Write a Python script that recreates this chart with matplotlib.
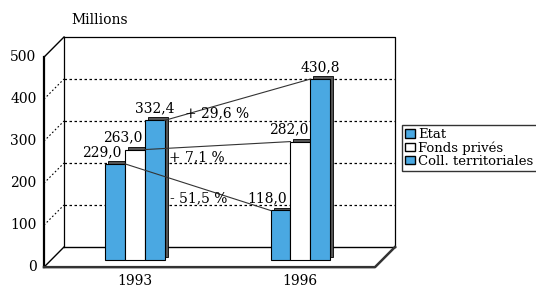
import matplotlib
matplotlib.use("Agg")
import matplotlib.pyplot as plt
from matplotlib.patches import Patch

# --- data ---
years = ["1993", "1996"]
series = ["Etat", "Fonds privés", "Coll. territoriales"]
etat = [229.0, 118.0]
fonds = [263.0, 282.0]
coll = [332.4, 430.8]
changes = ["- 51,5 %", "+ 7,1 %", "+ 29,6 %"]
y_ticks = [0, 100, 200, 300, 400, 500]

# --- style / layout ---
plt.rcParams["font.family"] = ["DejaVu Serif"]
blue = "#4aa8e2"
colors = [blue, "white", blue]
fs = 10

# depth offsets in data units (front plane and bar plane)
DX, DY = -0.121, -48
BX, BY = -0.072, -31
W = 0.12
bar_off = [-W, 0.0, W]
lab_shift = [-0.08, -0.072, 0.0]
pct_pos = [(0.316, 117), (0.304, 214), (0.424, 319)]

fig = plt.figure(figsize=(5.36, 2.88), dpi=100)
ax = fig.add_axes([64 / 536, 41 / 288, 331 / 536, 210 / 288])
ax.set_xlim(-0.5, 1.5)
ax.set_ylim(0, 500)
ax.axis("off")

k = dict(color="black", clip_on=False)
# back wall
ax.plot([-0.5, 1.5, 1.5], [500, 500, 0], lw=0.9, **k)
ax.plot([-0.5, -0.5], [0, 500], lw=0.9, **k)
ax.plot([-0.5, 1.5], [0, 0], lw=1.0, **k)
for v in y_ticks[1:-1]:
    ax.plot([-0.5, 1.5], [v, v], lw=0.9, ls=(0, (2, 2)), **k)
    ax.plot([-0.5 + DX, -0.5], [v + DY, v], lw=0.8, ls=(0, (1.5, 2)), **k)
# front plane / floor
ax.plot([-0.5 + DX, -0.5 + DX], [DY, 500 + DY], lw=1.6, **k)
ax.plot([-0.5 + DX, -0.5], [500 + DY, 500], lw=1.0, **k)
ax.plot([-0.5 + DX, -0.5], [DY, 0], lw=1.0, **k)
ax.plot([-0.5 + DX, 1.5 + DX, 1.5], [DY, DY, 0], lw=1.8, color="#333333", clip_on=False)

for v in y_ticks:
    ax.text(-0.5 + DX - 0.045, v + DY, str(v), ha="right", va="center", fontsize=fs)

# bars with a dark top/side to fake depth
x = [0, 1]
groups = [etat, fonds, coll]
for vals, off, c in zip(groups, bar_off, colors):
    xs = [xi + off + BX for xi in x]
    ax.bar([xx + 0.018 for xx in xs], vals, W, bottom=BY + 7, color="#555555",
           edgecolor="black", lw=0.6, zorder=2, clip_on=False)
for vals, off, c, sh in zip(groups, bar_off, colors, lab_shift):
    xs = [xi + off + BX for xi in x]
    ax.bar(xs, vals, W, bottom=BY, color=c, edgecolor="black", lw=0.8,
           zorder=3, clip_on=False)
    for xx, v in zip(xs, vals):
        ax.text(xx + sh, v + BY + 12, f"{v:.1f}".replace(".", ","), ha="center",
                va="bottom", fontsize=fs, zorder=5)
    # connection line 1993 -> 1996
    ax.plot([xs[0] + W / 2, xs[1] - W / 2], [vals[0] + BY, vals[1] + BY],
            color="#333333", lw=0.8, zorder=4, clip_on=False)

for (px, py), t in zip(pct_pos, changes):
    ax.text(px, py, t, ha="center", va="center", fontsize=fs, zorder=5)

for xi, yr in zip(x, years):
    ax.text(xi + BX, -82, yr, ha="center", va="center", fontsize=fs)

ax.text(-0.283, 540, "Millions", ha="center", va="center", fontsize=fs)

handles = [Patch(facecolor=c, edgecolor="black", lw=1.0) for c in colors]
fig.legend(handles, series, loc="upper left", bbox_to_anchor=(402 / 536, 1 - 125 / 288),
           fontsize=9.5, frameon=True, fancybox=False, edgecolor="black",
           borderpad=0.25, handlelength=0.7, handleheight=0.6, handletextpad=0.3,
           labelspacing=0.0, borderaxespad=0)

fig.savefig("out.png", dpi=100)
